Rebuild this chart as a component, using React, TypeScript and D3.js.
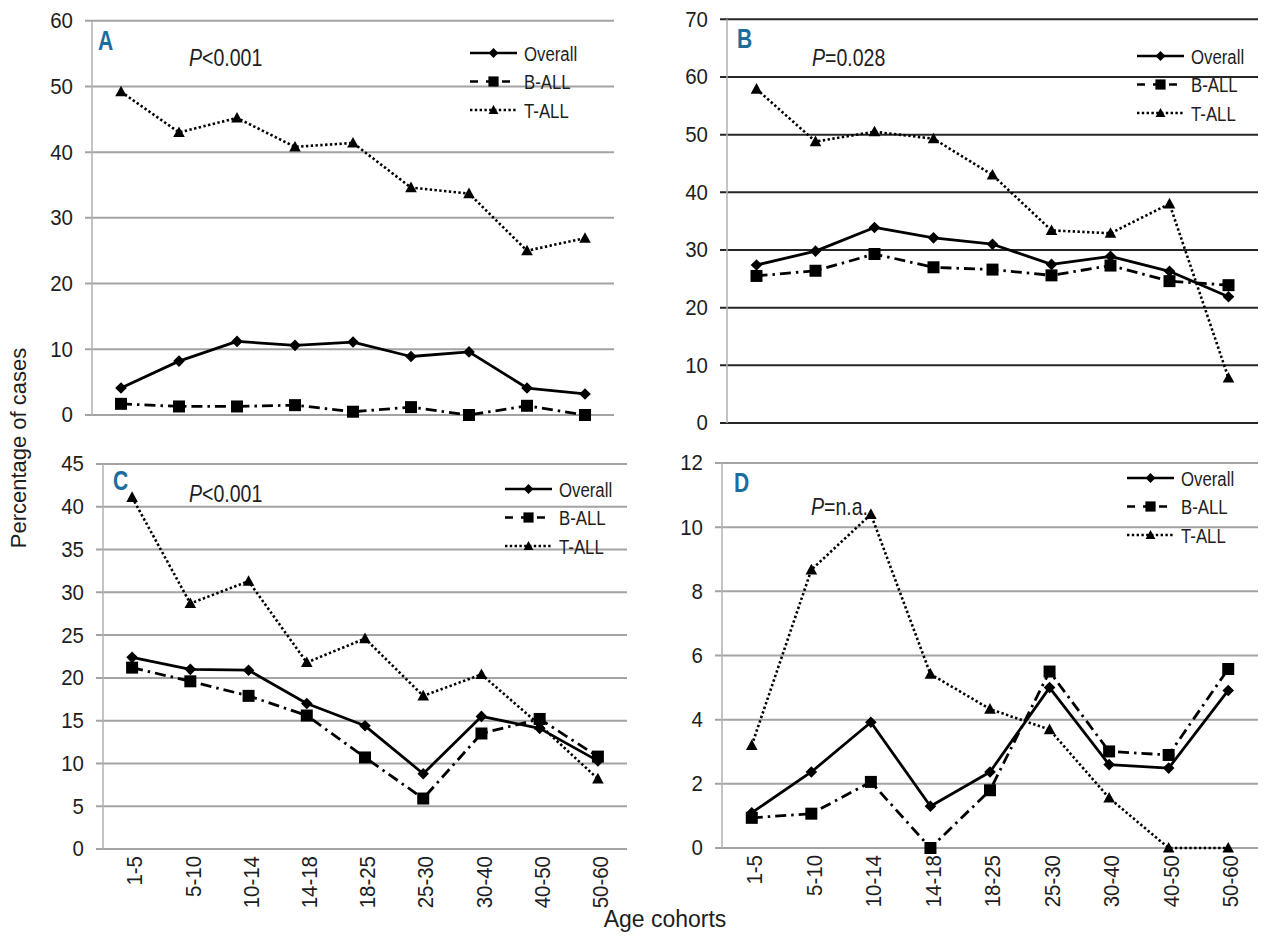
import { useEffect, useRef } from 'react'
import * as d3 from 'd3'

// Age cohorts shared by all four panels
const COHORTS = ['1-5', '5-10', '10-14', '14-18', '18-25', '25-30', '30-40', '40-50', '50-60']
const SERIES_NAMES = ['Overall', 'B-ALL', 'T-ALL']

// Panel A
const A_OVERALL = [4.1, 8.2, 11.2, 10.6, 11.1, 8.9, 9.6, 4.1, 3.2]
const A_BALL = [1.7, 1.3, 1.3, 1.5, 0.5, 1.2, 0, 1.4, 0]
const A_TALL = [49.2, 43.0, 45.2, 40.8, 41.4, 34.6, 33.7, 25.0, 26.9]

// Panel B
const B_OVERALL = [27.4, 29.8, 33.9, 32.1, 31.0, 27.5, 28.9, 26.3, 21.9]
const B_BALL = [25.5, 26.4, 29.3, 27.0, 26.6, 25.6, 27.3, 24.6, 23.9]
const B_TALL = [57.9, 48.8, 50.5, 49.3, 43.0, 33.4, 32.9, 38.0, 7.8]

// Panel C
const C_OVERALL = [22.4, 21.0, 20.9, 17.0, 14.4, 8.8, 15.5, 14.1, 10.3]
const C_BALL = [21.2, 19.6, 17.9, 15.6, 10.7, 5.9, 13.5, 15.2, 10.8]
const C_TALL = [41.1, 28.7, 31.3, 21.8, 24.6, 17.9, 20.4, 14.5, 8.2]

// Panel D
const D_OVERALL = [1.1, 2.37, 3.92, 1.3, 2.37, 5.0, 2.6, 2.49, 4.91]
const D_BALL = [0.94, 1.07, 2.06, 0.0, 1.8, 5.5, 3.01, 2.9, 5.58]
const D_TALL = [3.2, 8.67, 10.4, 5.42, 4.33, 3.69, 1.56, 0, 0]

// y ticks
const A_TICKS = [0, 10, 20, 30, 40, 50, 60]
const B_TICKS = [0, 10, 20, 30, 40, 50, 60, 70]
const C_TICKS = [0, 5, 10, 15, 20, 25, 30, 35, 40, 45]
const D_TICKS = [0, 2, 4, 6, 8, 10, 12]

const SANS = '"Liberation Sans", Arial, sans-serif'
const TICK_K = 0.93 // horizontal squeeze for tick digits
const TEXT_K = 0.8 // horizontal squeeze for legend words (condensed face)
const INK = '#1e1e1e'
const LETTER_COLOR = '#1c6c9e'

type Panel = {
  letter: string
  pRest: string
  values: number[][]
  ticks: number[]
  box: { x0: number; x1: number; y0: number; y1: number }
  grid: string
  letterPos: [number, number]
  pPos: [number, number]
  legendPos: [number, number]
  xLabels: boolean
}

const PANELS: Panel[] = [
  {
    letter: 'A', pRest: '<0.001', values: [A_OVERALL, A_BALL, A_TALL], ticks: A_TICKS,
    box: { x0: 92, x1: 614, y0: 20.7, y1: 415 }, grid: '#a3a3a3',
    letterPos: [98, 50], pPos: [189, 66], legendPos: [470, 53], xLabels: false,
  },
  {
    letter: 'B', pRest: '=0.028', values: [B_OVERALL, B_BALL, B_TALL], ticks: B_TICKS,
    box: { x0: 727, x1: 1258, y0: 19.3, y1: 423 }, grid: '#262626',
    letterPos: [737, 48], pPos: [812, 66], legendPos: [1137, 56], xLabels: false,
  },
  {
    letter: 'C', pRest: '<0.001', values: [C_OVERALL, C_BALL, C_TALL], ticks: C_TICKS,
    box: { x0: 103, x1: 627, y0: 464, y1: 849 }, grid: '#a3a3a3',
    letterPos: [113, 490], pPos: [189, 502], legendPos: [505, 489], xLabels: true,
  },
  {
    letter: 'D', pRest: '=n.a.', values: [D_OVERALL, D_BALL, D_TALL], ticks: D_TICKS,
    box: { x0: 722, x1: 1258, y0: 463, y1: 848 }, grid: '#a3a3a3',
    letterPos: [734, 492], pPos: [811, 515], legendPos: [1127, 478], xLabels: true,
  },
]

const DASH: Record<string, string | null> = {
  Overall: null,
  'B-ALL': '11,5,2.5,5',
  'T-ALL': '2.4,2.4',
}

const markerPath = (name: string, k = 1) => {
  if (name === 'Overall') {
    const r = 5.8 * k
    return `M0,${-r}L${r},0L0,${r}L${-r},0Z`
  }
  if (name === 'B-ALL') {
    const r = 6 * k
    return `M${-r},${-r}H${r}V${r}H${-r}Z`
  }
  const w = 5.8 * k
  return `M0,${-6 * k}L${w},${4.6 * k}L${-w},${4.6 * k}Z`
}

export default function App() {
  const svgRef = useRef<SVGSVGElement>(null)

  useEffect(() => {
    if (!svgRef.current) return
    d3.select(svgRef.current).selectAll('*').remove()
    const svg = d3.select(svgRef.current)

    svg.append('rect').attr('width', 1280).attr('height', 943).attr('fill', '#fff')

    for (const p of PANELS) {
      const { x0, x1, y0, y1 } = p.box
      const yMax = p.ticks[p.ticks.length - 1]
      const x = d3.scalePoint<string>().domain(COHORTS).range([x0, x1]).padding(0.5)
      const y = d3.scaleLinear().domain([0, yMax]).range([y1, y0])
      const g = svg.append('g')

      // ---- grid + y labels ----
      g.selectAll('.grid')
        .data(p.ticks)
        .join('line')
        .attr('x1', x0 - 7)
        .attr('x2', x1)
        .attr('y1', (d) => y(d))
        .attr('y2', (d) => y(d))
        .attr('stroke', p.grid)
        .attr('stroke-width', 2)

      g.append('line')
        .attr('x1', x0)
        .attr('x2', x0)
        .attr('y1', y0)
        .attr('y2', y1)
        .attr('stroke', '#b0b0b0')
        .attr('stroke-width', 1.5)

      g.selectAll('.ylab')
        .data(p.ticks)
        .join('text')
        .attr('transform', (d) => `translate(${x0 - 19},${y(d)}) scale(${TICK_K},1)`)
        .attr('dy', '0.34em')
        .attr('text-anchor', 'end')
        .attr('font-family', SANS)
        .attr('font-size', 22)
        .attr('fill', INK)
        .text((d) => String(d))

      if (p.xLabels) {
        g.selectAll('.xlab')
          .data(COHORTS)
          .join('text')
          .attr(
            'transform',
            (d) => `translate(${(x(d) ?? 0) + 3},${y1 + 7}) rotate(-90) scale(${TICK_K},1)`,
          )
          .attr('text-anchor', 'end')
          .attr('dominant-baseline', 'central')
          .attr('font-family', SANS)
          .attr('font-size', 22)
          .attr('fill', INK)
          .text((d) => d)
      }

      // ---- series ----
      SERIES_NAMES.forEach((name, si) => {
        const vals = p.values[si]
        const line = d3
          .line<number>()
          .x((_, i) => x(COHORTS[i]) ?? 0)
          .y((v) => y(v))
        g.append('path')
          .attr('d', line(vals))
          .attr('fill', 'none')
          .attr('stroke', '#000')
          .attr('stroke-width', name === 'T-ALL' ? 2.6 : 2.8)
          .attr('stroke-dasharray', DASH[name])
          .attr('stroke-linejoin', 'round')
        g.selectAll(`.m${si}`)
          .data(vals)
          .join('path')
          .attr('transform', (v, i) => `translate(${x(COHORTS[i])},${y(v)})`)
          .attr('d', markerPath(name))
          .attr('fill', '#000')
      })

      // ---- panel letter + P value ----
      g.append('text')
        .attr('transform', `translate(${p.letterPos[0]},${p.letterPos[1]}) scale(0.78,1)`)
        .attr('font-family', SANS)
        .attr('font-weight', 'bold')
        .attr('font-size', 27)
        .attr('fill', LETTER_COLOR)
        .text(p.letter)

      const pt = g
        .append('text')
        .attr('transform', `translate(${p.pPos[0]},${p.pPos[1]}) scale(0.85,1)`)
        .attr('font-family', SANS)
        .attr('font-size', 23)
        .attr('fill', INK)
      pt.append('tspan').attr('font-style', 'italic').text('P')
      pt.append('tspan').text(p.pRest)

      // ---- legend ----
      SERIES_NAMES.forEach((name, si) => {
        const lx = p.legendPos[0]
        const ly = p.legendPos[1] + si * 28.5
        g.append('line')
          .attr('x1', lx)
          .attr('x2', lx + 47)
          .attr('y1', ly)
          .attr('y2', ly)
          .attr('stroke', '#000')
          .attr('stroke-width', 2.6)
          .attr('stroke-dasharray', name === 'B-ALL' ? '8,8' : DASH[name])
        g.append('path')
          .attr('transform', `translate(${lx + 23.5},${ly})`)
          .attr('d', markerPath(name, 0.85))
          .attr('fill', '#000')
        g.append('text')
          .attr('transform', `translate(${lx + 54},${ly}) scale(${TEXT_K},1)`)
          .attr('dy', '0.36em')
          .attr('font-family', SANS)
          .attr('font-size', 21)
          .attr('fill', INK)
          .text(name)
      })
    }

    // ---- shared axis titles ----
    svg
      .append('text')
      .attr('transform', 'translate(26,448) rotate(-90)')
      .attr('text-anchor', 'middle')
      .attr('font-family', SANS)
      .attr('font-size', 22)
      .attr('fill', INK)
      .text('Percentage of cases')

    svg
      .append('text')
      .attr('x', 665)
      .attr('y', 927)
      .attr('text-anchor', 'middle')
      .attr('font-family', SANS)
      .attr('font-size', 23)
      .attr('fill', INK)
      .text('Age cohorts')
  }, [])

  return (
    <svg
      ref={svgRef}
      width={1280}
      height={943}
      style={{ position: 'absolute', left: 0, top: 0, display: 'block' }}
    />
  )
}
